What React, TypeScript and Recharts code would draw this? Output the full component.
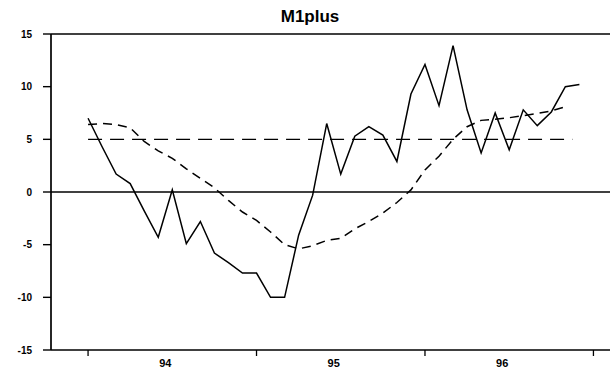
import { LineChart, Line, XAxis, YAxis, ReferenceLine } from "recharts";

// monthly observations, Jan 94 .. Dec 96 (index 0..35)
const years = ["94", "95", "96"];
const m1plus = [
  7.0, 4.3, 1.7, 0.8, -1.8, -4.3, 0.2, -4.9, -2.8, -5.8, -6.7, -7.7,
  -7.7, -10.0, -10.0, -4.1, -0.3, 6.5, 1.7, 5.3, 6.2, 5.4, 2.9, 9.3,
  12.1, 8.2, 13.9, 7.8, 3.7, 7.5, 4.0, 7.8, 6.3, 7.6, 10.0, 10.2,
];
const trend = [
  6.4, 6.5, 6.4, 6.1, 4.8, 3.9, 3.2, 2.2, 1.3, 0.4, -0.8, -1.9,
  -2.7, -3.8, -5.0, -5.4, -5.1, -4.6, -4.4, -3.5, -2.8, -2.0, -1.0, 0.2,
  2.1, 3.4, 5.0, 6.2, 6.8, 6.9, 7.05, 7.25, 7.45, 7.7, 8.1, null,
];
const targetLevel = 5;
const targetFrom = 0;
const targetTo = 34.5;
const yTicks = [-15, -10, -5, 0, 5, 10, 15];
const xTicks = [0, 5.5, 12, 17.5, 24, 29.5, 36];

const data = m1plus.map((v, i) => ({ i, m1plus: v, trend: trend[i] }));

const font = "'Liberation Sans', Arial, sans-serif";

const XTick = (props: any) => {
  const { x, y, payload } = props;
  const v = payload.value;
  if (v % 12 === 0) {
    return <line x1={x} y1={y} x2={x} y2={y + 6} stroke="#000" strokeWidth={1.3} />;
  }
  return (
    <text x={x} y={y + 17} textAnchor="middle" fontSize={11} fontWeight="bold" fill="#000" fontFamily={font}>
      {years[Math.floor(v / 12)]}
    </text>
  );
};

export default function App() {
  return (
    <div style={{ position: "fixed", left: 0, top: 0, width: 610, height: 374, background: "#fff" }}>
      <div style={{
        position: "absolute", left: 0, width: 620, top: 7, textAlign: "center",
        fontFamily: font, fontWeight: "bold", fontSize: 17, lineHeight: "20px", color: "#000",
      }}>
        M1plus
      </div>
      <LineChart width={610} height={374} data={data} margin={{ top: 34, right: 0, bottom: 0, left: 0 }}>
        <XAxis
          dataKey="i"
          type="number"
          domain={[-2.64, 37.18]}
          allowDataOverflow
          ticks={xTicks}
          tick={XTick}
          tickLine={false}
          tickSize={0}
          tickMargin={0}
          interval={0}
          axisLine={{ stroke: "#000", strokeWidth: 1.4 }}
          height={24}
        />
        <YAxis
          type="number"
          domain={[-15, 15]}
          ticks={yTicks}
          width={51}
          tickSize={8}
          tickMargin={11}
          interval={0}
          axisLine={{ stroke: "#000", strokeWidth: 1.7 }}
          tickLine={{ stroke: "#000", strokeWidth: 1.4 }}
          tick={{ fontSize: 10, fontWeight: "bold", fill: "#000", fontFamily: font }}
        />
        <ReferenceLine y={15} stroke="#000" strokeWidth={1.4} />
        <ReferenceLine y={0} stroke="#000" strokeWidth={1.4} />
        <ReferenceLine
          segment={[{ x: targetFrom, y: targetLevel }, { x: targetTo, y: targetLevel }]}
          stroke="#000"
          strokeWidth={1.4}
          strokeDasharray="14 8"
        />
        <Line type="linear" dataKey="trend" stroke="#000" strokeWidth={1.5} strokeDasharray="9 6"
          dot={false} isAnimationActive={false} connectNulls={false} />
        <Line type="linear" dataKey="m1plus" stroke="#000" strokeWidth={1.5}
          dot={false} isAnimationActive={false} />
      </LineChart>
    </div>
  );
}
